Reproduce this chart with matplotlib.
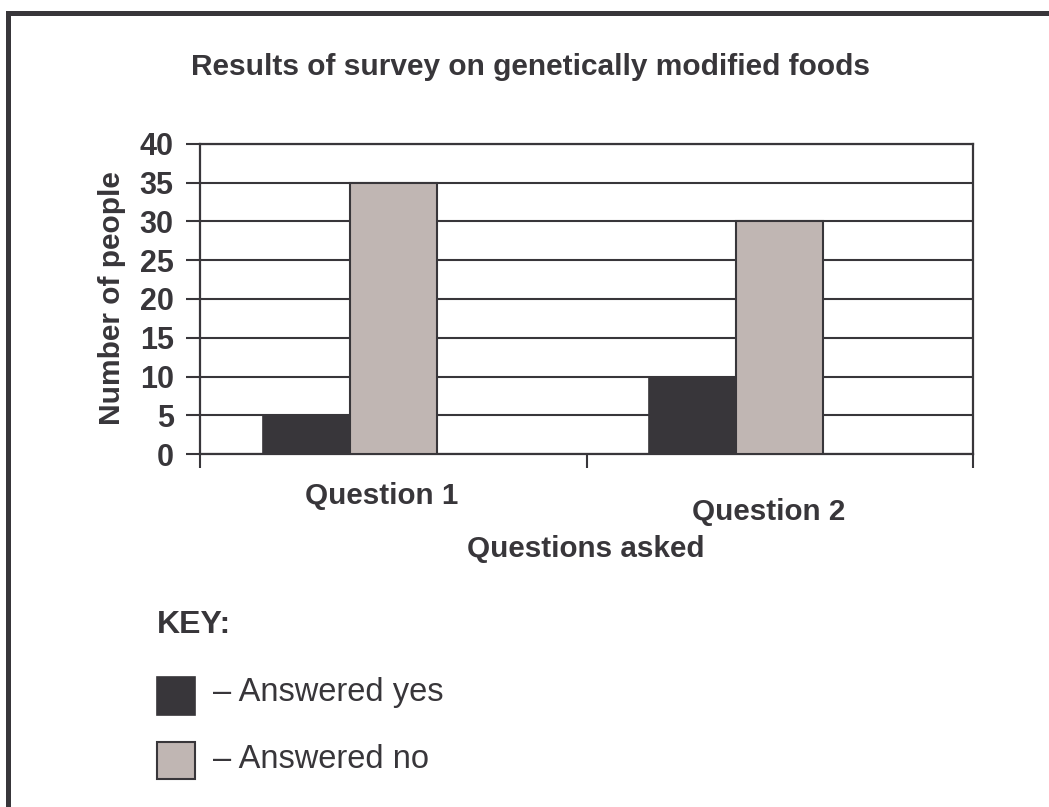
import numpy as np
import matplotlib.pyplot as plt
from matplotlib.patches import Rectangle

# survey data
questions = ['Question 1', 'Question 2']
answered_yes = [5, 10]
answered_no = [35, 30]
y_ticks = [0, 5, 10, 15, 20, 25, 30, 35, 40]

ink = '#38363a'
yes_color = '#38363a'
no_color = '#c0b6b3'

plt.rcParams['font.family'] = ['Liberation Sans', 'DejaVu Sans']

fig = plt.figure(figsize=(10.49, 8.07), dpi=100)

# outer frame (cut off on the right and bottom)
fig.add_artist(plt.Line2D([0.0076, 0.0076], [0, 0.9845], color=ink, lw=3.6, transform=fig.transFigure))
fig.add_artist(plt.Line2D([0.0076, 1.0], [0.9845, 0.9845], color=ink, lw=3.6, transform=fig.transFigure))

ax = fig.add_axes([0.1907, 0.4374, 0.7369, 0.3842])

x = np.arange(len(questions))
w = 0.225
# Excel-style layout with an empty third slot
ax.bar(x - w, answered_yes, w, align='center', color=yes_color, edgecolor=ink, linewidth=1.2, zorder=3)
ax.bar(x, answered_no, w, align='center', color=no_color, edgecolor=ink, linewidth=1.5, zorder=3)

ax.set_xlim(-0.5, 1.5)
ax.set_ylim(0, 40)
ax.set_yticks(y_ticks)
ax.set_yticklabels([str(t) for t in y_ticks], fontsize=22, fontweight='bold', color=ink)
ax.yaxis.grid(True, color=ink, linewidth=1.5, zorder=0)
ax.set_xticks([-0.5, 0.5, 1.5])
ax.set_xticklabels([])
ax.tick_params(axis='y', direction='out', length=10, width=1.5, color=ink, pad=9)
ax.tick_params(axis='x', direction='out', length=10, width=1.5, color=ink)
for s in ax.spines.values():
    s.set_color(ink)
    s.set_linewidth(1.6)

# staggered category labels, as in the original
ax.text(x[0] - 0.03, -5.4, questions[0], ha='center', va='center', fontsize=21.3, fontweight='bold', color=ink)
ax.text(x[1] - 0.03, -7.5, questions[1], ha='center', va='center', fontsize=21.3, fontweight='bold', color=ink)

fig.text(0.5587, 1 - 549 / 807, 'Questions asked', ha='center', va='center', fontsize=21.3, fontweight='bold', color=ink)
fig.text(0.107, 1 - 298 / 807, 'Number of people', ha='center', va='center', rotation=90, fontsize=21.5, fontweight='bold', color=ink)
fig.text(0.5055, 1 - 67 / 807, 'Results of survey on genetically modified foods', ha='center', va='center', fontsize=21.5, fontweight='bold', color=ink)

# key
fig.text(157 / 1049, 1 - 625 / 807, 'KEY:', ha='left', va='center', fontsize=23, fontweight='bold', color=ink)
fig.add_artist(Rectangle((157 / 1049, 1 - 715 / 807), 38 / 1049, 38 / 807, transform=fig.transFigure, facecolor=yes_color, edgecolor=ink, lw=1.2))
fig.add_artist(Rectangle((157 / 1049, 1 - 779 / 807), 38 / 1049, 37 / 807, transform=fig.transFigure, facecolor=no_color, edgecolor=ink, lw=1.5))
fig.text(213 / 1049, 1 - 693 / 807, '\u2013 Answered yes', ha='left', va='center', fontsize=23.5, color=ink)
fig.text(213 / 1049, 1 - 759 / 807, '\u2013 Answered no', ha='left', va='center', fontsize=23.5, color=ink)

fig.savefig('out.png', dpi=100)
